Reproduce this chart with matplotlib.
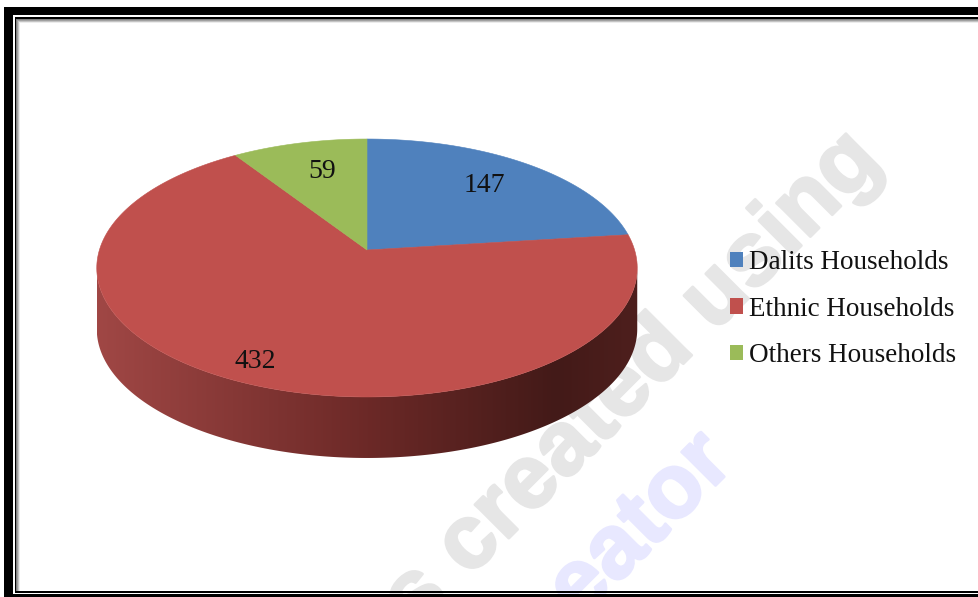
import numpy as np
import matplotlib
matplotlib.use('Agg')
import matplotlib.pyplot as plt
import matplotlib.patheffects as pe
from matplotlib.colors import LinearSegmentedColormap
from matplotlib.patches import Patch, Polygon, Rectangle

labels = ['Dalits Households', 'Ethnic Households', 'Others Households']
values = [147, 432, 59]
colors = ['#4f81bd', '#c0504d', '#9bbb59']
label_pos = [(484, 185), (255, 362), (322, 171)]

W, H = 979, 597
CX, CY = 367, 250      # pie centre on the page
RX, RY = 267.6, 91.6   # tilted disc scale
TILT = 0.1395          # far edge shrinks with this factor
DEPTH = 61             # thickness of the pie

plt.rcParams['font.family'] = ['Liberation Serif', 'DejaVu Serif']


def disc(angle):
    # angle runs clockwise from twelve o'clock
    x, y = np.sin(angle), np.cos(angle)
    w = 1 + TILT * y
    return CX + RX * x / w, (CY - RY * y) / w


def wedge_points(start, end):
    t = np.linspace(start, end, 200)
    xs, ys = disc(t)
    return np.column_stack([np.r_[CX, xs], np.r_[CY, ys]])


fig = plt.figure(figsize=(W / 100, H / 100), dpi=100, facecolor='white')
ax = fig.add_axes([0, 0, 1, 1])
ax.set_xlim(0, W)
ax.set_ylim(H, 0)
ax.axis('off')

# background watermarks, cut off by the frame
page = Rectangle((16, 18), W - 16, 572, transform=ax.transData)
wm = dict(family='Liberation Sans', weight='bold', rotation=45,
          rotation_mode='anchor', ha='right', va='baseline', zorder=1)
t1 = ax.text(884, 163, 's created using', color='#e6e6e6', fontsize=65, **wm)
t2 = ax.text(736, 465, 'eator', color='#e8e8ff', fontsize=65, **wm)
for tx, col in ((t1, '#e6e6e6'), (t2, '#e8e8ff')):
    tx.set_clip_path(page)
    tx.set_path_effects([pe.withStroke(linewidth=2, foreground=col)])

# side wall with left to right shading
t = np.linspace(0, 2 * np.pi, 720, endpoint=False)
ox, oy = disc(t)
i_r, i_l = np.argmax(ox), np.argmin(ox)
front = np.arange(i_r, i_l + 1)
wall = np.column_stack([np.r_[ox[front], ox[front][::-1]],
                        np.r_[oy[front], oy[front][::-1] + DEPTH]])
shade = LinearSegmentedColormap.from_list('wall', [(0, '#a04745'), (0.5, '#6c2927'),
                                                   (0.85, '#431a18'), (1, '#4e1f1d')])
im = ax.imshow(np.linspace(0, 1, 256)[None, :], cmap=shade, aspect='auto',
               extent=(ox.min(), ox.max(), oy.max() + DEPTH, oy.min()), zorder=2)
im.set_clip_path(Polygon(wall, transform=ax.transData))
ax.set_xlim(0, W)
ax.set_ylim(H, 0)

# top face
angles = np.r_[0, np.cumsum(values)] / sum(values) * 2 * np.pi
for k, c in enumerate(colors):
    ax.add_patch(Polygon(wedge_points(angles[k], angles[k + 1]), closed=True,
                         facecolor=c, edgecolor=c, lw=0.4, zorder=3))

for v, (x, y) in zip(values, label_pos):
    ax.text(x, y, str(v), fontsize=20, ha='center', va='center', color='#111111', zorder=4)

handles = [Patch(facecolor=c, edgecolor='none', label=l) for c, l in zip(colors, labels)]
ax.legend(handles=handles, loc='upper left', bbox_to_anchor=(730, 250),
          bbox_transform=ax.transData, frameon=False, fontsize=19.5, labelcolor='#111111',
          handlelength=0.48, handleheight=0.48, handletextpad=0.22,
          labelspacing=0.8, borderpad=0, borderaxespad=0)

# double rule frame
bars = [(4, 7, W - 4, 7.7, 'black'), (4, 7, 9, H - 7, 'black'), (4, 594.3, W - 4, 2.7, 'black'),
        (15, 16.5, W - 15, 2, 'black'), (15, 16.5, 1.5, 576, 'black'), (15, 590.7, W - 15, 2, 'black'),
        (977.7, 19, 1.3, 571, '#aaaaaa')]
for x, y, w, h, c in bars:
    ax.add_patch(Rectangle((x, y), w, h, facecolor=c, edgecolor='none', zorder=5))
for off, c in enumerate(['#808080', '#a0a0a0', '#c4c4c4', '#ececec']):
    ax.add_patch(Rectangle((16.5 + off, 18.5 + off), 1, 572 - off, facecolor=c, edgecolor='none', zorder=5))
    ax.add_patch(Rectangle((16.5 + off, 18.5 + off), W - 16, 1, facecolor=c, edgecolor='none', zorder=5))

fig.savefig('out.png', dpi=100)
